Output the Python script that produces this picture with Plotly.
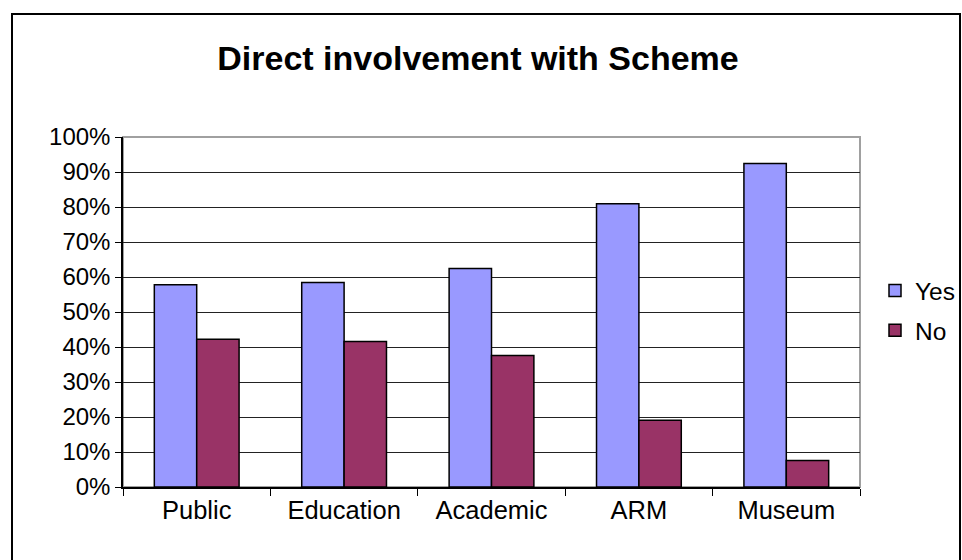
import plotly.graph_objects as go

categories = ["Public", "Education", "Academic", "ARM", "Museum"]
yes_share = [0.578, 0.584, 0.624, 0.809, 0.924]
no_share = [0.422, 0.416, 0.376, 0.191, 0.076]

FONT = "Liberation Sans, Arial, sans-serif"
W, H = 962, 560
# plot area in reference pixels
L, R, T, B = 123, 860, 137, 487


def px_x(x):
    return (x - L) / (R - L)


def px_y(y):
    return (B - y) / (B - T)


fig = go.Figure()
fig.add_trace(go.Bar(x=categories, y=yes_share, name="Yes", legendgroup="yes",
                     marker=dict(color="#9999FF", line=dict(color="#000000", width=1.5))))
fig.add_trace(go.Bar(x=categories, y=no_share, name="No", legendgroup="no",
                     marker=dict(color="#993366", line=dict(color="#000000", width=1.5))))

fig.update_layout(
    width=W,
    height=H,
    barmode="group",
    bargap=0.425,
    bargroupgap=0,
    paper_bgcolor="white",
    plot_bgcolor="white",
    font=dict(family=FONT, color="black", size=25),
    title=dict(text="<b>Direct involvement with Scheme</b>", x=px_x(478), xref="paper", xanchor="center",
               y=1 - 58 / H, yanchor="middle", font=dict(size=34, family=FONT, color="black")),
    margin=dict(l=L, r=W - R, t=T, b=H - B, pad=0, autoexpand=False),
    legend=dict(x=px_x(875), xanchor="left", y=px_y(310.5), yanchor="middle", traceorder="grouped",
                tracegroupgap=5, font=dict(size=24.5), bgcolor="rgba(0,0,0,0)", itemwidth=30),
    showlegend=True,
    shapes=[
        # outer chart frame
        dict(type="rect", xref="paper", yref="paper", x0=px_x(12), x1=px_x(960), y0=px_y(620), y1=px_y(14),
             line=dict(color="black", width=2), layer="below"),
        # plot area border
        dict(type="rect", xref="paper", yref="paper", x0=0, x1=1, y0=0, y1=1,
             line=dict(color="#A0A0A0", width=2), layer="below"),
    ],
)

fig.update_yaxes(
    range=[0, 1],
    tickvals=[i / 10 for i in range(11)],
    tickformat=".0%",
    showgrid=True,
    gridcolor="#222222",
    gridwidth=1,
    ticks="outside",
    ticklen=6,
    tickcolor="black",
    showline=True,
    linecolor="black",
    linewidth=1.5,
    zeroline=False,
    tickfont=dict(size=24),
)
fig.update_xaxes(
    tickson="boundaries",
    ticks="outside",
    ticklen=7,
    tickcolor="black",
    showline=True,
    linecolor="black",
    linewidth=1.5,
    showgrid=False,
    tickfont=dict(size=25.5),
)

# drop the default 8px page margin so the figure fills the window exactly
fig.write_html("out.html", config={"displayModeBar": False},
               post_script="document.body.style.margin = '0';")
